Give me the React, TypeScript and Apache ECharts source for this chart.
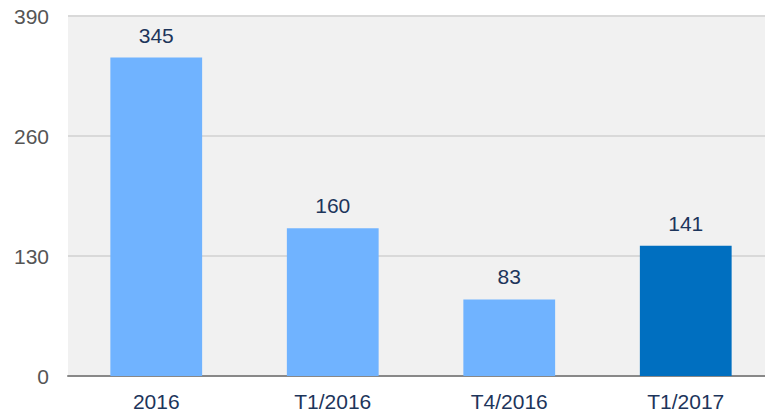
import React, { useEffect, useRef } from "react";
import * as echarts from "echarts";

const categories = ["2016", "T1/2016", "T4/2016", "T1/2017"];
const values = [345, 160, 83, 141];
const barColors = ["#70b3ff", "#70b3ff", "#70b3ff", "#006fc0"];
const yTicks = [0, 130, 260, 390];

export default function App() {
  const ref = useRef<HTMLDivElement>(null);
  useEffect(() => {
    const chart = echarts.init(ref.current!, null, { renderer: "svg" });
    chart.setOption({
      animation: false,
      textStyle: { fontFamily: "Liberation Sans, Arial, sans-serif" },
      grid: {
        left: 68,
        width: 706,
        top: 16,
        bottom: 36,
        outerBoundsMode: "none",
        containLabel: false,
        show: true,
        backgroundColor: "#f1f1f1",
        borderWidth: 0,
      },
      xAxis: {
        type: "category",
        data: categories,
        axisTick: { show: false },
        axisLine: { lineStyle: { color: "#888888", width: 2 } },
        axisLabel: { color: "#1d355b", fontSize: 21, margin: 15 },
      },
      yAxis: {
        type: "value",
        min: yTicks[0],
        max: yTicks[yTicks.length - 1],
        interval: 130,
        axisLine: { show: false },
        axisTick: { show: false },
        splitLine: { lineStyle: { color: "#d9d9d9", width: 2 } },
        axisLabel: { color: "#555555", fontSize: 21, margin: 19 },
      },
      series: [
        {
          type: "bar",
          barWidth: "52%",
          data: values.map((v, i) => ({ value: v, itemStyle: { color: barColors[i] } })),
          label: {
            show: true,
            position: "top",
            distance: 12,
            color: "#1d355b",
            fontSize: 21,
          },
        },
      ],
    });
    return () => chart.dispose();
  }, []);
  return (
    <div
      ref={ref}
      style={{ position: "fixed", left: 0, top: 0, width: 765, height: 412, background: "#ffffff" }}
    />
  );
}
